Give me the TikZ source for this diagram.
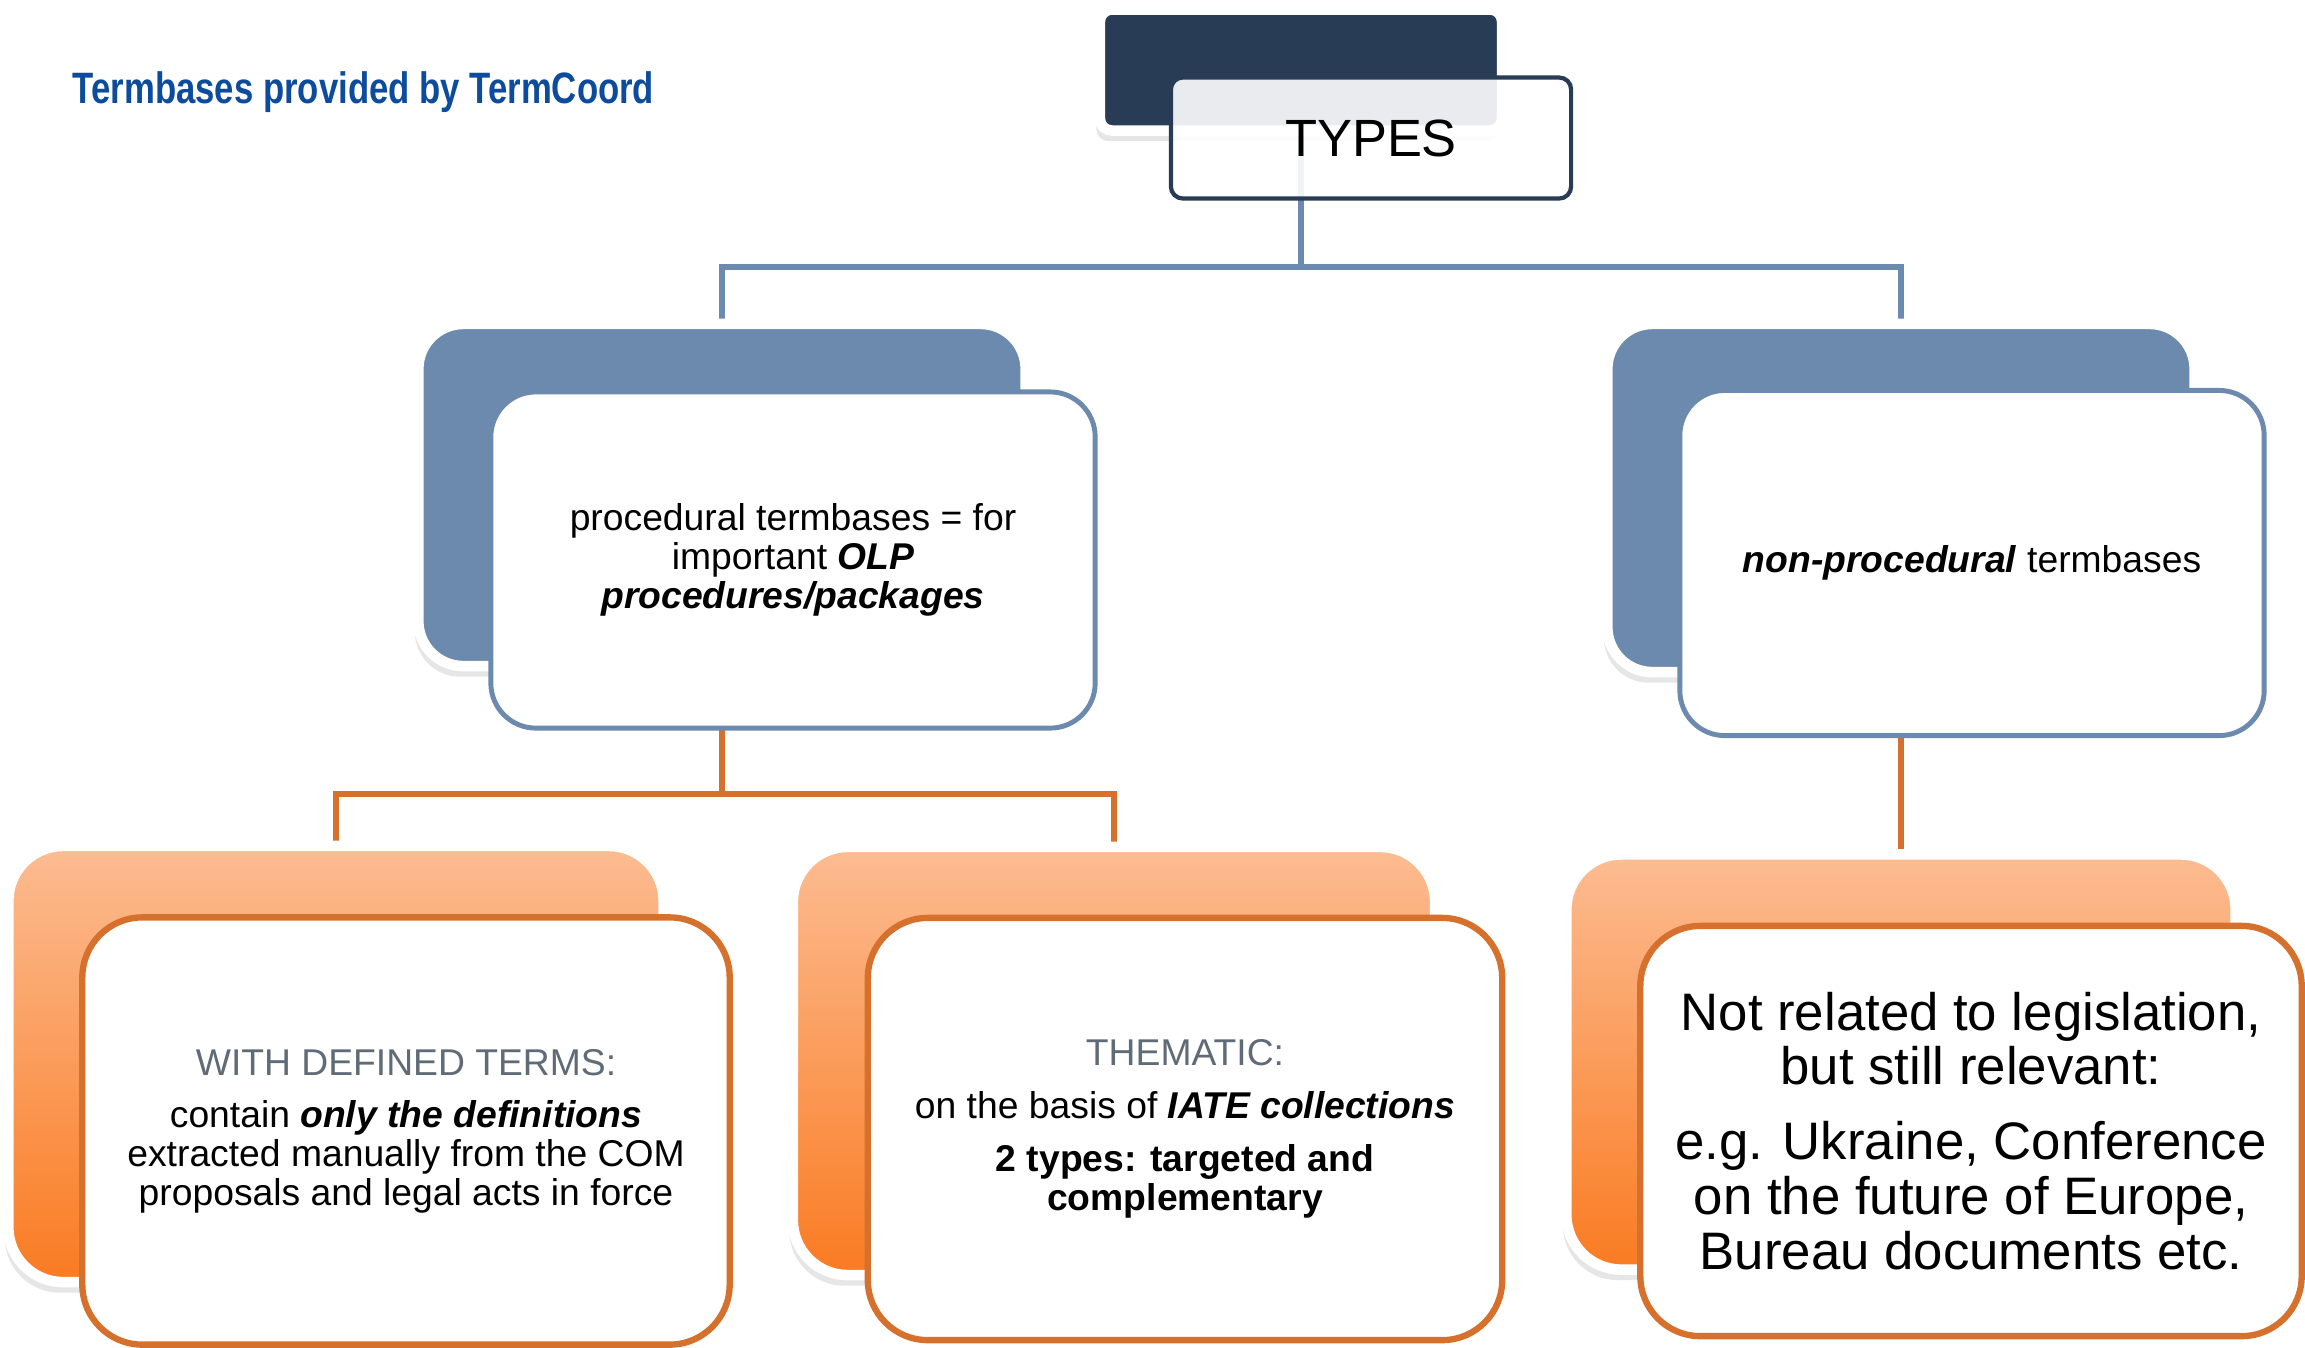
\documentclass[tikz,border=0pt]{standalone}
\usepackage{fontspec}
\setmainfont{Liberation Sans}
\usepackage{graphicx}
\usepackage{xcolor}
\usepackage{tikz}
\usetikzlibrary{positioning,shadows,backgrounds}
\definecolor{navy}{HTML}{283C55}
\definecolor{steel}{HTML}{6C89AE}
\definecolor{rust}{HTML}{D5712C}
\definecolor{peach}{HTML}{FCBC92}
\definecolor{tangerine}{HTML}{FA7B22}
\definecolor{graytxt}{HTML}{5F6B76}
\definecolor{titleblue}{HTML}{0D4C9C}

\begin{document}
\begin{tikzpicture}[x=0.01cm, y=-0.01cm,
  backbox/.style={draw=white, line width=3pt, inner sep=0pt,
                  drop shadow={shadow xshift=-1pt, shadow yshift=-3pt, opacity=0.2}},
  blueback/.style={backbox, fill=steel, rounded corners=0.45cm},
  orangeback/.style={backbox, rounded corners=0.55cm, top color=peach, bottom color=tangerine},
  bluefront/.style={draw=steel, fill=white, line width=1.4pt, rounded corners=0.45cm,
                    inner sep=0pt, align=center, font=\fontsize{10.6}{11.1}\selectfont},
  orangefront/.style={draw=rust, fill=white, line width=1.8pt, rounded corners=0.6cm,
                      inner sep=0pt, align=center, font=\fontsize{10.6}{11.1}\selectfont},
  blueline/.style={draw=steel, line width=1.5pt},
  orangeline/.style={draw=rust, line width=1.5pt},
  heading/.style={font=\fontsize{12.5}{15}\selectfont\bfseries, text=titleblue, inner sep=0pt}
]
\useasboundingbox (0,0) rectangle (2305,1347);

\node[heading, anchor=base west] (title) at (72,103) {\scalebox{0.79}[1]{Termbases provided by TermCoord}};

\node[draw=white, line width=3pt, fill=navy, rounded corners=0.12cm,
      minimum width=4.02cm, minimum height=1.21cm,
      drop shadow={shadow xshift=-1pt, shadow yshift=-3pt, opacity=0.2}] (typesback) at (1301,70) {};
\node[draw=navy, fill=white, fill opacity=0.9, text opacity=1, line width=1.2pt,
      rounded corners=0.12cm, minimum width=4cm, minimum height=1.21cm,
      font=\fontsize{14.9}{17}\selectfont] (typesfront) at (1371,138) {TYPES};

\node[blueback, minimum width=6.07cm, minimum height=3.42cm] (procback) at (722,495) {};
\node[bluefront, minimum width=6.04cm, minimum height=3.36cm] (procfront) at (793,560)
  {procedural termbases = for\\ important \textbf{\textit{OLP}}\\ \textbf{\textit{procedures/packages}}};

\node[blueback, minimum width=5.87cm, minimum height=3.48cm] (nonprocback) at (1901,498) {};
\node[bluefront, minimum width=5.84cm, minimum height=3.45cm] (nonprocfront) at (1972,563)
  {\textbf{\textit{non-procedural}} termbases};

\node[orangeback, minimum width=6.55cm, minimum height=4.36cm] (definedback) at (336,1064) {};
\node[orangefront, minimum width=6.47cm, minimum height=4.27cm] (definedfront) at (406,1131)
  {\textcolor{graytxt}{WITH DEFINED TERMS:}\\[3.7pt]
   contain \textbf{\textit{only the definitions}}\\
   extracted manually from the COM\\
   proposals and legal acts in force};

\node[orangeback, minimum width=6.42cm, minimum height=4.28cm] (thematicback) at (1114,1061) {};
\node[orangefront, minimum width=6.34cm, minimum height=4.22cm] (thematicfront) at (1185,1129)
  {\textcolor{graytxt}{THEMATIC:}\\[3.9pt]
   on the basis of \textbf{\textit{IATE collections}}\\[3.9pt]
   \textbf{2 types: targeted and}\\
   \textbf{complementary}};

\node[orangeback, minimum width=6.69cm, minimum height=4.15cm] (otherback) at (1901,1062) {};
\node[orangefront, minimum width=6.61cm, minimum height=4.1cm,
      font=\fontsize{15}{15.6}\selectfont] (otherfront) at (1971,1131)
  {Not related to legislation,\\
   but still relevant:\\[5.7pt]
   e.g. Ukraine, Conference\\
   on the future of Europe,\\
   Bureau documents etc.};

\coordinate (bus1) at (1301,267);
\coordinate (bus2) at (722,794);

\begin{scope}[on background layer]
\draw[blueline] (typesback.south) -- (bus1) -| (procback.north);
\draw[blueline] (bus1) -| (nonprocback.north);
\draw[orangeline] (procback.south) -- (bus2) -| (definedback.north);
\draw[orangeline] (bus2) -| (thematicback.north);
\draw[orangeline] (nonprocback.south) -- (otherback.north);
\end{scope}
\end{tikzpicture}
\end{document}
